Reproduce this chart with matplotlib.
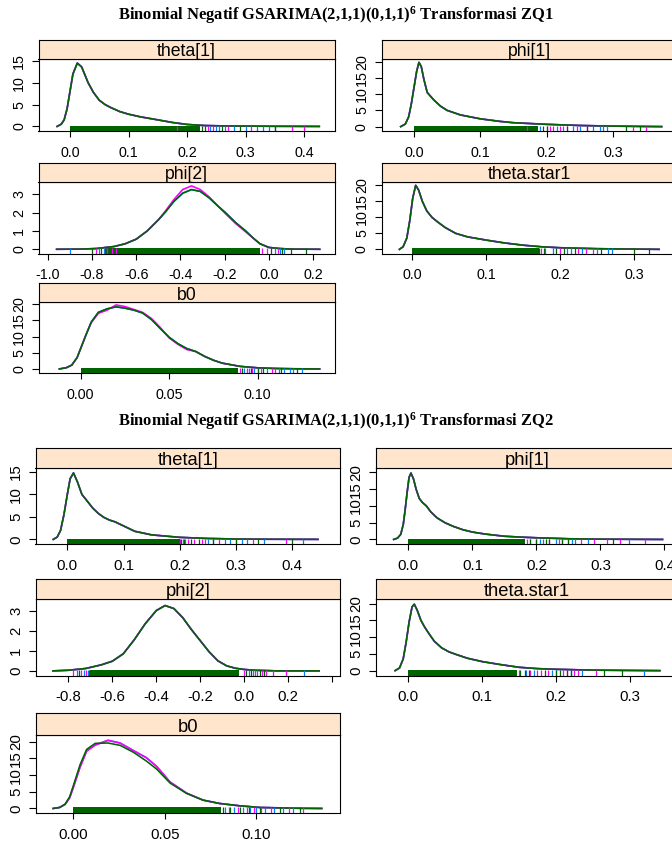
import matplotlib
matplotlib.use("Agg")
import matplotlib.pyplot as plt

# ---------------- data ----------------
titles = ["Binomial Negatif GSARIMA(2,1,1)(0,1,1)$^6$ Transformasi ZQ1",
          "Binomial Negatif GSARIMA(2,1,1)(0,1,1)$^6$ Transformasi ZQ2"]
params = ["theta[1]", "phi[1]", "phi[2]", "theta.star1", "b0"]

# group 1 (ZQ1)
g1_theta1_x = [-0.022, -0.015, -0.01, -0.005, 0.0, 0.005, 0.0125, 0.02, 0.031, 0.04, 0.05,
               0.06, 0.07, 0.085, 0.1, 0.12, 0.15, 0.175, 0.2, 0.23, 0.27, 0.35, 0.426]
g1_theta1_y = [0, 0.5, 1.5, 4.0, 8.0, 12.0, 14.5, 13.6, 10.0, 7.8, 6.0,
               5.0, 4.3, 3.4, 2.8, 2.2, 1.5, 0.9, 0.45, 0.2, 0.1, 0.03, 0]
g1_phi1_x = [-0.02, -0.013, -0.008, -0.004, 0.0, 0.004, 0.0075, 0.011, 0.015, 0.02, 0.03,
             0.04, 0.05, 0.07, 0.1, 0.13, 0.15, 0.2, 0.25, 0.3, 0.373]
g1_phi1_y = [0, 0.8, 3.0, 7.0, 12.0, 17.0, 19.8, 18.5, 14.5, 10.5, 8.2,
             6.3, 5.0, 3.6, 2.4, 1.6, 1.2, 0.7, 0.35, 0.15, 0]
g1_phi2_x = [-0.96, -0.85, -0.78, -0.7, -0.65, -0.6, -0.55, -0.5, -0.47, -0.43, -0.39, -0.35,
             -0.31, -0.27, -0.23, -0.197, -0.15, -0.105, -0.07, -0.04, 0.0, 0.05, 0.1, 0.23]
g1_phi2_y = [0, 0.01, 0.04, 0.15, 0.3, 0.55, 1.0, 1.6, 2.0, 2.6, 3.05, 3.25,
             3.15, 2.8, 2.35, 2.0, 1.45, 1.0, 0.6, 0.3, 0.1, 0.04, 0.01, 0]
g1_phi2_y_mag = [0, 0.01, 0.04, 0.15, 0.3, 0.55, 1.0, 1.6, 2.05, 2.7, 3.25, 3.45,
                 3.25, 2.85, 2.35, 1.95, 1.4, 0.95, 0.6, 0.3, 0.1, 0.04, 0.01, 0]
g1_tstar_x = [-0.017, -0.012, -0.007, -0.003, 0.001, 0.005, 0.009, 0.014, 0.02, 0.027, 0.035,
              0.045, 0.059, 0.075, 0.1, 0.125, 0.15, 0.175, 0.2, 0.25, 0.3, 0.334]
g1_tstar_y = [0, 0.8, 3.5, 9.0, 16.0, 20.0, 18.5, 15.0, 12.0, 10.0, 8.5,
              6.8, 5.0, 3.9, 2.9, 2.0, 1.3, 0.8, 0.5, 0.2, 0.08, 0]
g1_b0_x = [-0.012, -0.008, -0.005, -0.002, 0.0, 0.003, 0.006, 0.01, 0.015, 0.02, 0.025, 0.03,
           0.035, 0.04, 0.045, 0.05, 0.055, 0.06, 0.065, 0.07, 0.075, 0.08, 0.09, 0.1, 0.11,
           0.12, 0.135]
g1_b0_y = [0, 0.4, 1.2, 3.5, 6.3, 10.5, 14.5, 17.5, 18.6, 19.2, 18.8, 18.2,
           17.3, 15.3, 12.5, 9.8, 7.8, 6.3, 5.4, 3.9, 2.7, 1.8, 0.8, 0.35, 0.15, 0.06, 0]
g1_b0_y_mag = [0, 0.4, 1.2, 3.5, 6.3, 10.5, 14.3, 17.2, 18.2, 19.8, 19.3, 18.4,
               17.5, 15.6, 12.8, 9.6, 7.6, 6.0, 5.4, 3.9, 2.7, 1.8, 0.8, 0.35, 0.15, 0.06, 0]

# group 2 (ZQ2)
g2_theta1_x = [-0.025, -0.018, -0.012, -0.006, 0.0, 0.005, 0.011, 0.018, 0.026, 0.035, 0.045,
               0.055, 0.065, 0.075, 0.085, 0.1, 0.12, 0.15, 0.2, 0.25, 0.3, 0.35, 0.446]
g2_theta1_y = [0, 0.5, 2.0, 5.5, 10.0, 13.5, 14.8, 12.8, 10.0, 8.6, 7.0,
               5.8, 4.9, 4.3, 3.9, 3.0, 1.8, 1.0, 0.45, 0.2, 0.08, 0.03, 0]
g2_phi1_x = [-0.023, -0.017, -0.012, -0.008, -0.005, -0.002, 0.001, 0.004, 0.008, 0.012, 0.017,
             0.022, 0.028, 0.035, 0.045, 0.057, 0.07, 0.085, 0.1, 0.12, 0.15, 0.18, 0.2, 0.25,
             0.3, 0.397]
g2_phi1_y = [0, 0.4, 1.5, 4.5, 9.0, 14.0, 18.5, 19.8, 18.0, 15.0, 12.2,
             11.0, 10.0, 8.2, 6.4, 5.0, 3.9, 2.9, 2.2, 1.6, 0.95, 0.65, 0.5, 0.2, 0.08, 0]
g2_phi2_x = [-0.87, -0.8, -0.72, -0.65, -0.6, -0.55, -0.5, -0.45, -0.4, -0.36, -0.32, -0.28,
             -0.24, -0.2, -0.16, -0.12, -0.08, -0.04, 0.0, 0.05, 0.15, 0.34]
g2_phi2_y = [0, 0.03, 0.12, 0.3, 0.48, 0.85, 1.55, 2.35, 3.0, 3.25, 3.1, 2.65,
             2.05, 1.5, 0.95, 0.5, 0.25, 0.13, 0.07, 0.03, 0.0, 0]
g2_tstar_x = [-0.018, -0.012, -0.007, -0.003, 0.001, 0.005, 0.008, 0.012, 0.017, 0.022, 0.028,
              0.035, 0.045, 0.055, 0.065, 0.08, 0.1, 0.125, 0.15, 0.175, 0.2, 0.25, 0.3, 0.341]
g2_tstar_y = [0, 0.8, 3.5, 8.5, 14.5, 19.0, 19.8, 18.0, 15.0, 13.0, 11.0,
              8.8, 6.8, 5.6, 4.8, 3.7, 2.7, 1.8, 1.0, 0.6, 0.4, 0.15, 0.06, 0]
g2_b0_x = [-0.011, -0.0075, -0.0045, -0.002, 0.0, 0.0037, 0.0073, 0.012, 0.019, 0.0256, 0.033,
           0.04, 0.0456, 0.053, 0.062, 0.071, 0.08, 0.091, 0.102, 0.124, 0.136]
g2_b0_y = [0, 0.3, 1.3, 3.5, 6.8, 13.1, 17.7, 19.5, 19.6, 18.9, 16.8,
           14.2, 11.8, 7.6, 4.5, 2.5, 1.5, 0.8, 0.3, 0.05, 0]
g2_b0_y_oth = [0, 0.3, 1.2, 3.2, 6.3, 12.4, 17.2, 19.0, 20.4, 19.6, 17.3,
               15.2, 12.6, 7.9, 4.6, 2.5, 1.5, 0.8, 0.3, 0.05, 0]

# rug: dense (solid) range of chain 3, plus the sparse ticks of each chain
g1_theta1_solid = (0.0, 0.222)
g1_theta1_rug_b = [0.24, 0.25, 0.255, 0.265, 0.28, 0.3, 0.32, 0.33, 0.34, 0.35]
g1_theta1_rug_m = [0.183, 0.235, 0.245, 0.27, 0.31, 0.38, 0.4]
g1_theta1_rug_g = [0.225, 0.23, 0.26, 0.29, 0.35]
g1_phi1_solid = (0.0, 0.187)
g1_phi1_rug_b = [0.19, 0.215, 0.225, 0.24, 0.25, 0.27, 0.28, 0.285, 0.29]
g1_phi1_rug_m = [0.17, 0.2, 0.205, 0.21, 0.22, 0.23, 0.245, 0.26, 0.33, 0.35]
g1_phi1_rug_g = [0.195, 0.2, 0.23, 0.26, 0.32, 0.34]
g1_phi2_solid = (-0.74, -0.04)
g1_phi2_rug_b = [-0.9, -0.77, -0.745, 0.03, 0.05, 0.07]
g1_phi2_rug_m = [-0.78, -0.73, -0.71, -0.69, -0.03, -0.01, 0.04]
g1_phi2_rug_g = [-0.8, -0.76, 0.01, 0.06, 0.1, 0.17]
g1_tstar_solid = (0.0, 0.171)
g1_tstar_rug_b = [0.18, 0.19, 0.21, 0.215, 0.23, 0.25, 0.265, 0.27]
g1_tstar_rug_m = [0.175, 0.2, 0.225, 0.235, 0.245]
g1_tstar_rug_g = [0.172, 0.178, 0.195, 0.205, 0.22, 0.255, 0.3, 0.32]
g1_b0_solid = (0.0, 0.089)
g1_b0_rug_b = [0.092, 0.095, 0.098, 0.1, 0.105, 0.112, 0.115, 0.118, 0.12, 0.125]
g1_b0_rug_m = [0.09, 0.094, 0.097, 0.102, 0.108, 0.11]
g1_b0_rug_g = [0.091, 0.096, 0.1, 0.103, 0.113, 0.122]

g2_theta1_solid = (0.0, 0.2)
g2_theta1_rug_b = [0.205, 0.21, 0.25, 0.26, 0.28, 0.29, 0.31, 0.32, 0.35, 0.42]
g2_theta1_rug_m = [0.2, 0.215, 0.225, 0.24, 0.245, 0.27, 0.3, 0.33, 0.39]
g2_theta1_rug_g = [0.202, 0.207, 0.22, 0.235, 0.26, 0.3, 0.34, 0.4]
g2_phi1_solid = (0.0, 0.182)
g2_phi1_rug_b = [0.2, 0.205, 0.21, 0.23, 0.24, 0.255, 0.26, 0.28, 0.345]
g2_phi1_rug_m = [0.185, 0.19, 0.22, 0.235, 0.25, 0.27, 0.29, 0.31, 0.33, 0.37]
g2_phi1_rug_g = [0.19, 0.2, 0.215, 0.22, 0.24, 0.25, 0.32]
g2_phi2_solid = (-0.70, -0.023)
g2_phi2_rug_b = [-0.76, -0.73, -0.71, 0.02, 0.04, 0.06, 0.27]
g2_phi2_rug_m = [-0.78, -0.74, -0.72, 0.0, 0.05, 0.08, 0.1, 0.13, 0.19]
g2_phi2_rug_g = [-0.75, -0.705, 0.01, 0.03, 0.07, 0.09]
g2_tstar_solid = (0.0, 0.147)
g2_tstar_rug_b = [0.16, 0.17, 0.195, 0.2, 0.22, 0.235, 0.32]
g2_tstar_rug_m = [0.15, 0.165, 0.175, 0.18, 0.19, 0.21, 0.215, 0.225, 0.23, 0.255]
g2_tstar_rug_g = [0.152, 0.158, 0.163, 0.185, 0.2, 0.205, 0.215, 0.22, 0.265, 0.29]
g2_b0_solid = (0.0, 0.081)
g2_b0_rug_b = [0.083, 0.088, 0.093, 0.097, 0.1, 0.105, 0.11, 0.115, 0.12]
g2_b0_rug_m = [0.085, 0.09, 0.095, 0.099, 0.103, 0.108, 0.118, 0.126]
g2_b0_rug_g = [0.082, 0.086, 0.091, 0.096, 0.102, 0.113, 0.124]

# axis ticks
ticks_01 = [0.0, 0.1, 0.2, 0.3, 0.4]
ticks_01s = [0.0, 0.1, 0.2, 0.3]
ticks_phi2_g1 = [-1.0, -0.8, -0.6, -0.4, -0.2, 0.0, 0.2]
ticks_phi2_g2 = [-0.8, -0.6, -0.4, -0.2, 0.0, 0.2, 0.4]
labels_phi2_g2 = ["-0.8", "-0.6", "-0.4", "-0.2", "0.0", "0.2", ""]
ticks_b0 = [0.0, 0.05, 0.10]
labels_b0 = ["0.00", "0.05", "0.10"]
yt_15 = [0, 5, 10, 15]
yt_20 = [0, 5, 10, 15, 20]
yt_3 = [0, 1, 2, 3]

# ---------------- style / layout ----------------
W, H = 672, 843
BLUE, MAG, GREEN = "#0080ff", "#ff00ff", "#006400"
STRIP = "#ffe5cc"
RUG = 0.075

plt.rcParams['font.family'] = ['Liberation Sans', 'DejaVu Sans']
plt.rcParams['mathtext.fontset'] = 'custom'
plt.rcParams['mathtext.rm'] = 'Liberation Serif:bold'
plt.rcParams['mathtext.it'] = 'Liberation Serif:bold'
plt.rcParams['mathtext.bf'] = 'Liberation Serif:bold'

fig = plt.figure(figsize=(W / 100, H / 100), dpi=100)


def rect(l, r, t, b):
    return [l / W, 1 - b / H, (r - l) / W, (b - t) / H]


def panel(col, row, fs, name, x, ys, solid, rug_b, rug_m, rug_g,
          xlim, ylim, xt, xl, yt):
    l, r = col
    st, pt, pb = row
    ax = fig.add_axes(rect(l, r, pt, pb))
    yb, ym, yg = ys
    ax.plot(x, yb, color=BLUE, lw=1.2)
    ax.plot(x, ym, color=MAG, lw=1.2)
    ax.plot(x, yg, color=GREEN, lw=1.15)
    ax.axvspan(solid[0], solid[1], ymin=0, ymax=RUG, color=GREEN, lw=0)
    tr = ax.get_xaxis_transform()
    ax.vlines(rug_b, 0, RUG, transform=tr, colors=BLUE, lw=0.9)
    ax.vlines(rug_m, 0, RUG, transform=tr, colors=MAG, lw=0.9)
    ax.vlines(rug_g, 0, RUG, transform=tr, colors=GREEN, lw=0.9)
    ax.set_xlim(xlim)
    ax.set_ylim(ylim)
    ax.set_xticks(xt)
    if xl is None:
        xl = ["%.1f" % v for v in xt]
    ax.set_xticklabels(xl)
    ax.set_yticks(yt)
    ax.set_yticklabels([str(v) for v in yt], rotation=90, va='center')
    ax.tick_params(axis='x', length=4, width=0.8, pad=6.5, labelsize=fs)
    ax.tick_params(axis='y', length=5, width=0.8, pad=4, labelsize=fs)
    for s in ax.spines.values():
        s.set_linewidth(0.8)
    sx = fig.add_axes(rect(l, r, st, pt))
    sx.set_facecolor(STRIP)
    sx.set_xticks([])
    sx.set_yticks([])
    for s in sx.spines.values():
        s.set_linewidth(0.8)
    sx.text(0.5, 0.13, name, transform=sx.transAxes, ha='center', va='baseline',
            fontsize=fs + 2.4)
    return ax


# group 1 geometry (pixels)
g1_left, g1_right = (38.5, 334.5), (381.5, 678)
g1_rows = [(40.5, 58.5, 131), (163, 181.5, 253.5), (283, 302, 373)]
# group 2 geometry
g2_left, g2_right = (35.5, 340), (375.7, 678.3)
g2_rows = [(447.5, 468, 544.3), (579, 598.5, 675.5), (713.3, 735, 813.3)]

fs1, fs2 = 10.3, 10.8

fig.text(336 / W, 1 - 15 / H, titles[0], ha='center', va='center',
         family='Liberation Serif', weight='bold', fontsize=11.9)
fig.text(336 / W, 1 - 421.5 / H, titles[1], ha='center', va='center',
         family='Liberation Serif', weight='bold', fontsize=11.9)

panel(g1_left, g1_rows[0], fs1, params[0], g1_theta1_x,
      (g1_theta1_y, g1_theta1_y, g1_theta1_y), g1_theta1_solid,
      g1_theta1_rug_b, g1_theta1_rug_m, g1_theta1_rug_g,
      (-0.0538, 0.452), (-1.05, 15.55), ticks_01, None, yt_15)
panel(g1_right, g1_rows[0], fs1, params[1], g1_phi1_x,
      (g1_phi1_y, g1_phi1_y, g1_phi1_y), g1_phi1_solid,
      g1_phi1_rug_b, g1_phi1_rug_m, g1_phi1_rug_g,
      (-0.0489, 0.3976), (-1.35, 21.0), ticks_01s, None, yt_20)
panel(g1_left, g1_rows[1], fs1, params[2], g1_phi2_x,
      (g1_phi2_y, g1_phi2_y_mag, g1_phi2_y), g1_phi2_solid,
      g1_phi2_rug_b, g1_phi2_rug_m, g1_phi2_rug_g,
      (-1.042, 0.297), (-0.23, 3.69), ticks_phi2_g1, None, yt_3)
panel(g1_right, g1_rows[1], fs1, params[3], g1_tstar_x,
      (g1_tstar_y, g1_tstar_y, g1_tstar_y), g1_tstar_solid,
      g1_tstar_rug_b, g1_tstar_rug_m, g1_tstar_rug_g,
      (-0.0412, 0.3595), (-1.3, 21.2), ticks_01s, None, yt_20)
panel(g1_left, g1_rows[2], fs1, params[4], g1_b0_x,
      (g1_b0_y, g1_b0_y_mag, g1_b0_y), g1_b0_solid,
      g1_b0_rug_b, g1_b0_rug_m, g1_b0_rug_g,
      (-0.0238, 0.1434), (-1.25, 20.7), ticks_b0, labels_b0, yt_20)

panel(g2_left, g2_rows[0], fs2, params[0], g2_theta1_x,
      (g2_theta1_y, g2_theta1_y, g2_theta1_y), g2_theta1_solid,
      g2_theta1_rug_b, g2_theta1_rug_m, g2_theta1_rug_g,
      (-0.0566, 0.4852), (-1.1, 15.9), ticks_01, None, yt_15)
panel(g2_right, g2_rows[0], fs2, params[1], g2_phi1_x,
      (g2_phi1_y, g2_phi1_y, g2_phi1_y), g2_phi1_solid,
      g2_phi1_rug_b, g2_phi1_rug_m, g2_phi1_rug_g,
      (-0.0511, 0.4216), (-1.45, 21.3), ticks_01, None, yt_20)
panel(g2_left, g2_rows[1], fs2, params[2], g2_phi2_x,
      (g2_phi2_y, g2_phi2_y, g2_phi2_y), g2_phi2_solid,
      g2_phi2_rug_b, g2_phi2_rug_m, g2_phi2_rug_g,
      (-0.949, 0.435), (-0.23, 3.6), ticks_phi2_g2, labels_phi2_g2, yt_3)
panel(g2_right, g2_rows[1], fs2, params[3], g2_tstar_x,
      (g2_tstar_y, g2_tstar_y, g2_tstar_y), g2_tstar_solid,
      g2_tstar_rug_b, g2_tstar_rug_m, g2_tstar_rug_g,
      (-0.0443, 0.366), (-1.45, 21.5), ticks_01s, None, yt_20)
panel(g2_left, g2_rows[2], fs2, params[4], g2_b0_x,
      (g2_b0_y_oth, g2_b0_y_oth, g2_b0_y), g2_b0_solid,
      g2_b0_rug_b, g2_b0_rug_m, g2_b0_rug_g,
      (-0.0207, 0.146), (-1.45, 22.0), ticks_b0, labels_b0, yt_20)

fig.savefig("out.png", dpi=100, facecolor="white")
